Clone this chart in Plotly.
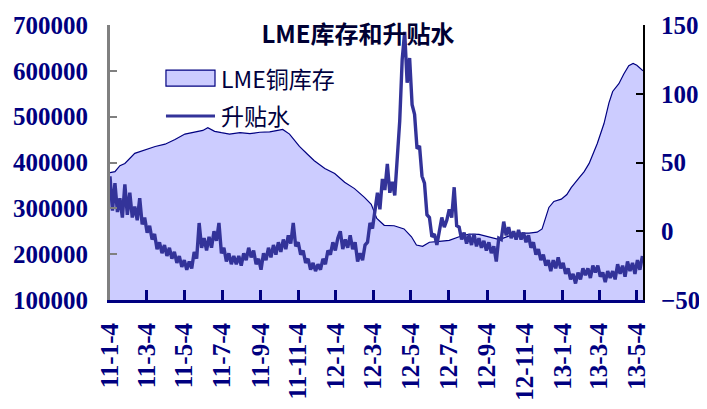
import plotly.graph_objects as go
import pandas as pd

# ---------------- data ----------------
inv_dates = [
    "2011-01-04", "2011-01-12", "2011-01-20", "2011-01-28", "2011-02-13", "2011-03-01",
    "2011-03-18", "2011-04-03", "2011-04-19", "2011-05-05", "2011-05-21", "2011-06-03",
    "2011-06-11", "2011-06-22", "2011-07-03", "2011-07-16", "2011-08-02", "2011-08-18",
    "2011-09-03", "2011-09-19", "2011-10-02", "2011-10-10", "2011-10-21", "2011-11-06",
    "2011-11-19", "2011-11-30", "2011-12-17", "2012-01-02", "2012-01-18", "2012-02-03",
    "2012-02-19", "2012-03-01", "2012-03-10", "2012-03-22", "2012-04-07", "2012-04-23",
    "2012-05-05", "2012-05-13", "2012-05-23", "2012-06-03", "2012-06-19", "2012-07-05",
    "2012-07-21", "2012-08-06", "2012-08-22", "2012-09-07", "2012-09-24", "2012-10-10",
    "2012-10-26", "2012-11-11", "2012-11-24", "2012-12-02", "2012-12-07", "2012-12-13",
    "2012-12-21", "2013-01-02", "2013-01-11", "2013-01-18", "2013-01-31", "2013-02-08",
    "2013-02-16", "2013-03-01", "2013-03-12", "2013-03-20", "2013-03-26", "2013-04-05",
    "2013-04-13", "2013-04-21", "2013-04-28", "2013-05-04", "2013-05-14",
]
inv_values = [
    378000, 380000, 393000, 398000, 420000, 428000,
    435000, 440000, 450000, 462000, 467000, 470000,
    476000, 468000, 465000, 462000, 465000, 463000,
    466000, 467000, 470000, 472000, 462000, 435000,
    418000, 404000, 387000, 376000, 357000, 343000,
    324000, 309000, 278000, 263000, 262000, 255000,
    238000, 220000, 217000, 226000, 228000, 230000,
    238000, 244000, 243000, 238000, 232000, 240000,
    246000, 246000, 248000, 255000, 275000, 302000,
    315000, 320000, 330000, 345000, 367000, 380000,
    398000, 441000, 485000, 530000, 555000, 572000,
    593000, 611000, 616000, 612000, 600000,
]

# spread observations every 4 days starting 2011-01-04
spread_dates = pd.date_range("2011-01-04", periods=216, freq="4D")
spread_values = [
    40, 15, 35, 14, 24, 10, 34, 12, 28, 10, 18, 8, 24, 5, 10, -1, 4, -6, -2, -13,
    -8, -16, -10, -18, -12, -20, -15, -23, -18, -26, -21, -28, -22, -27, -15, -20, 6, -12, -5, -14,
    -4, -12, 0, -7, 6, -16, -12, -22, -16, -24, -18, -24, -18, -25, -16, -21, -12, -19, -14, -24,
    -20, -28, -16, -21, -12, -19, -10, -17, -8, -15, -6, -13, -3, -9, 6, -11, -8, -17, -14, -23,
    -20, -28, -23, -29, -24, -28, -20, -24, -14, -17, -8, -14, -5, 0, -13, -6, -12, -3, -13, -8,
    -22, -16, -21, -10, -8, 6, 2, 14, 28, 16, 38, 30, 49, 28, 36, 26, 58, 80, 125, 145,
    108, 126, 92, 85, 60, 62, 40, 35, 12, 10, -4, -2, -10, 2, 10, 3, 8, 16, 10, 32,
    4, 3, -6, -1, -9, -3, -10, -2, -11, -5, -12, -7, -14, -8, -16, -11, -22, -5, -6, 7,
    -3, 3, -5, 0, -6, 1, -6, -1, -8, -3, -12, -8, -17, -13, -21, -17, -25, -21, -29, -21,
    -27, -19, -27, -23, -31, -27, -35, -31, -38, -30, -35, -27, -32, -27, -34, -25, -30, -25, -33, -30,
    -37, -29, -34, -29, -35, -24, -31, -25, -33, -22, -29, -23, -31, -21, -28, -18,
]

tick_dates = [
    "2011-01-04", "2011-03-04", "2011-05-04", "2011-07-04", "2011-09-04", "2011-11-04",
    "2012-01-04", "2012-03-04", "2012-05-04", "2012-07-04", "2012-09-04", "2012-11-04",
    "2013-01-04", "2013-03-04", "2013-05-04",
]
tick_labels = [
    "11-1-4", "11-3-4", "11-5-4", "11-7-4", "11-9-4", "11-11-4",
    "12-1-4", "12-3-4", "12-5-4", "12-7-4", "12-9-4", "12-11-4",
    "13-1-4", "13-3-4", "13-5-4",
]
left_ticks = [100000, 200000, 300000, 400000, 500000, 600000, 700000]
right_ticks = [-50, 0, 50, 100, 150]

series_names = ["LME铜库存", "升贴水"]
title_text = "LME库存和升贴水"

# ---------------- figure ----------------
NAVY = "#000080"
SERIF = "Liberation Serif"
tickfont = dict(family=SERIF, size=25, color=NAVY)


def bold(s):
    s = str(s)
    if s.startswith("-") and s[1:].isdigit():
        s = "\u2212" + s[1:]
    return "<b>" + s + "</b>"


fig = go.Figure()
fig.add_trace(go.Scatter(
    x=inv_dates, y=inv_values, name=series_names[0], mode="lines",
    line=dict(color=NAVY, width=1.2), fill="tozeroy", fillcolor="#CCCCFF",
    yaxis="y", showlegend=False,
))
fig.add_trace(go.Scatter(
    x=spread_dates, y=spread_values, name=series_names[1], mode="lines",
    line=dict(color="#333399", width=3.4),
    yaxis="y2", showlegend=False,
))

# legend drawn as swatch rectangle + line with text labels, in paper coordinates
fig.add_shape(type="rect", xref="paper", yref="paper", x0=0.105, x1=0.197, y0=0.778, y1=0.836,
              fillcolor="#CCCCFF", line=dict(color=NAVY, width=1.2), layer="above")
fig.add_shape(type="line", xref="paper", yref="paper", x0=0.105, x1=0.197, y0=0.669, y1=0.669,
              line=dict(color="#333399", width=3), layer="above")
legfont = dict(family="Noto Sans CJK SC", size=23, color="#000040")
fig.add_annotation(text=series_names[0], xref="paper", yref="paper", x=0.204, y=0.807,
                   xanchor="left", yanchor="middle", showarrow=False, font=legfont)
fig.add_annotation(text=series_names[1], xref="paper", yref="paper", x=0.204, y=0.673,
                   xanchor="left", yanchor="middle", showarrow=False, font=legfont)

fig.update_layout(
    width=699, height=401,
    showlegend=False,
    margin=dict(l=102, r=64, t=17, b=109),
    paper_bgcolor="white", plot_bgcolor="white",
    title=dict(text="<b>" + title_text + "</b>", x=350 / 699, xanchor="center",
               y=1 - 27 / 401, yanchor="middle",
               font=dict(family="Noto Sans CJK SC", size=24, color="#000033")),
    xaxis=dict(
        type="date", range=["2011-01-04", "2013-05-14"],
        tickmode="array", tickvals=tick_dates, ticktext=[bold(t) for t in tick_labels],
        tickangle=-90, tickfont=tickfont, automargin=False,
        showgrid=False, zeroline=False,
        showline=True, linecolor=NAVY, linewidth=3,
        ticks="inside", ticklen=10, tickwidth=3, tickcolor=NAVY,
        ticklabelstandoff=10,
    ),
    yaxis=dict(
        range=[100000, 700000], tickmode="array", tickvals=left_ticks,
        ticktext=[bold(v) for v in left_ticks], tickfont=tickfont, automargin=False,
        showgrid=False, zeroline=False,
        showline=True, linecolor="#808080", linewidth=3,
        ticks="inside", ticklen=7, tickwidth=2, tickcolor="#808080",
        ticklabelstandoff=14,
    ),
    yaxis2=dict(
        range=[-50, 150], tickmode="array", tickvals=right_ticks,
        ticktext=[bold(v) for v in right_ticks],
        tickfont=tickfont, overlaying="y", side="right", automargin=False,
        showgrid=False, zeroline=False,
        showline=True, linecolor="#000000", linewidth=2,
        ticks="inside", ticklen=7, tickwidth=2, tickcolor="#000000",
        ticklabelstandoff=11,
    ),
)

fig.write_html("out.html")
